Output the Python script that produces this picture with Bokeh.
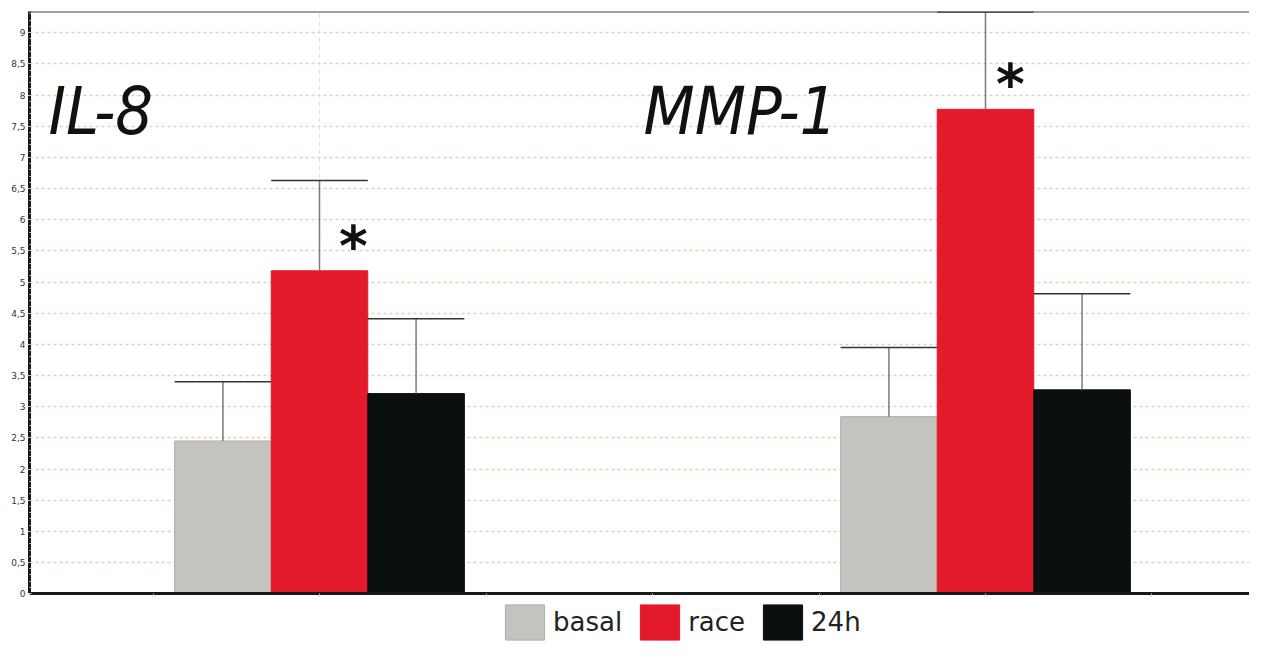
from bokeh.plotting import figure
from bokeh.models import Range1d, FixedTicker, Legend, LegendItem, Span, ColumnDataSource
from bokeh.core.properties import value
from bokeh.embed import file_html
from bokeh.resources import INLINE

# ---- data ----
genes = ["IL-8", "MMP-1"]
gene_x = [1.0, 3.0]
conditions = ["basal", "race", "24h"]
cond_offset = [-0.29, 0.0, 0.29]
means = {
    "basal": [2.45, 2.84],
    "race": [5.18, 7.77],
    "24h": [3.21, 3.27],
}
upper = {
    "basal": [3.40, 3.95],
    "race": [6.63, 9.33],
    "24h": [4.41, 4.81],
}
star_x_offset = [0.102, 0.075]
star_y = [5.57, 8.17]
label_x = [0.186, 1.973]
label_y = [7.73, 7.73]
y_ticks = [0, 0.5, 1, 1.5, 2, 2.5, 3, 3.5, 4, 4.5, 5, 5.5, 6, 6.5, 7, 7.5, 8, 8.5, 9]
y_tick_labels = ["0", "0,5", "1", "1,5", "2", "2,5", "3", "3,5", "4", "4,5", "5",
                 "5,5", "6", "6,5", "7", "7,5", "8", "8,5", "9"]
x_ticks = [0.5, 1.0, 1.5, 2.0, 2.5, 3.0, 3.5]

# ---- styles / layout ----
fill = {"basal": "#c4c3bf", "race": "#e31a2b", "24h": "#0a1010"}
edge = {"basal": "#b4aca4", "race": "#e31a2b", "24h": "#0a1010"}
BAR_W = 0.29
X_RANGE = (0.1291, 3.7928)
Y_MAX = 9.34
PX_PER_UNIT = 62.33
FRAME_H = 633
Y_MIN = Y_MAX - FRAME_H / PX_PER_UNIT   # extra room below 0 holds the legend

p = figure(width=1249, height=644, x_range=Range1d(*X_RANGE), y_range=Range1d(Y_MIN, Y_MAX),
           output_backend="svg", toolbar_location=None,
           min_border_left=29, min_border_right=0, min_border_top=11, min_border_bottom=0)
p.outline_line_color = None
p.background_fill_color = "white"

# grids
p.ygrid.ticker = FixedTicker(ticks=y_ticks[1:])
p.ygrid.grid_line_color = "#eccdb2"
p.ygrid.grid_line_dash = "3 3"
p.ygrid.grid_line_width = 1.5
p.xgrid.visible = False
p.segment(x0=gene_x, y0=[0, 0], x1=gene_x, y1=[Y_MAX, Y_MAX],
          line_color="#ead9cc", line_dash="4 4", line_width=1)

# y axis
minor = [round(i * 0.1, 1) for i in range(0, 94)]
p.yaxis.ticker = FixedTicker(ticks=y_ticks, minor_ticks=minor)
p.yaxis.bounds = (0, Y_MAX)
p.yaxis.major_label_overrides = dict(zip(y_ticks, y_tick_labels))
p.yaxis.major_label_text_font_size = "9px"
p.yaxis.major_label_text_font = "DejaVu Sans"
p.yaxis.major_label_text_color = "#333333"
p.yaxis.major_label_standoff = 2
p.yaxis.major_tick_out = 2
p.yaxis.major_tick_in = 0
p.yaxis.major_tick_line_color = "#e8c9ad"
p.yaxis.minor_tick_in = 2
p.yaxis.minor_tick_out = 0
p.yaxis.minor_tick_line_color = "#e8c9ad"
p.yaxis.axis_line_color = "#1a1a1a"
p.yaxis.axis_line_width = 3

# x axis (ticks only), pinned at y = 0
p.xaxis.fixed_location = 0
p.xaxis.ticker = FixedTicker(ticks=x_ticks)
p.xaxis.major_label_overrides = {t: "" for t in x_ticks}
p.xaxis.major_label_text_color = None
p.xaxis.major_label_standoff = 0
p.xaxis.major_tick_out = 3
p.xaxis.major_tick_in = 0
p.xaxis.major_tick_line_color = "#e0b898"
p.xaxis.minor_tick_line_color = None
p.xaxis.axis_line_color = "#1a1a1a"
p.xaxis.axis_line_width = 3

# top border
p.add_layout(Span(location=Y_MAX, dimension="width", line_color="#444444", line_width=2))

# bars and error bars
renderers = []
for cond, off in zip(conditions, cond_offset):
    xs = [g + off for g in gene_x]
    src = ColumnDataSource(dict(x=xs, top=means[cond], up=upper[cond],
                                x0=[x - BAR_W / 2 for x in xs], x1=[x + BAR_W / 2 for x in xs]))
    r = p.vbar(x="x", top="top", width=BAR_W, source=src,
               fill_color=fill[cond], line_color=edge[cond], line_width=1)
    renderers.append(r)
    p.segment(x0="x", y0="top", x1="x", y1="up", source=src, line_color="#7a7a7a", line_width=1.5)
    p.segment(x0="x0", y0="up", x1="x1", y1="up", source=src, line_color="#333333", line_width=1.5)

# significance stars
p.text(x=[g + o for g, o in zip(gene_x, star_x_offset)], y=star_y, text=["*", "*"],
       text_font=value("DejaVu Sans"), text_font_style="bold", text_font_size="55px",
       text_align="center", text_baseline="alphabetic", text_color="#111111")

# gene labels
p.text(x=label_x, y=label_y, text=genes,
       text_font=value("DejaVu Sans Condensed, DejaVu Sans"), text_font_style="italic",
       text_font_size="66px", text_align="left", text_baseline="alphabetic", text_color="#111111")

legend = Legend(items=[LegendItem(label=c, renderers=[r]) for c, r in zip(conditions, renderers)],
                orientation="horizontal", location=(471, 0),
                glyph_width=49, glyph_height=44, label_height=44, label_standoff=4, spacing=13,
                padding=0, margin=0, border_line_color=None, background_fill_alpha=0,
                label_text_font_size="26px", label_text_font="DejaVu Sans", label_text_color="#222222")
p.add_layout(legend)

open("out.html", "w").write(file_html(p, INLINE))
